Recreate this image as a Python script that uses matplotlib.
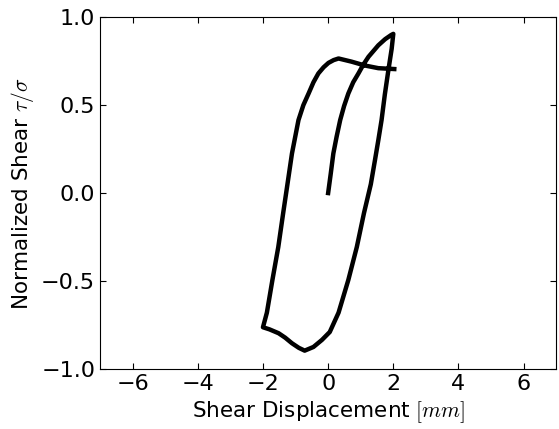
import matplotlib
matplotlib.use("Agg")
import matplotlib.pyplot as plt

plt.rcParams["mathtext.fontset"] = "cm"

# Shear displacement (mm) and normalized shear along the loading path
disp = [0.0, 0.04, 0.08, 0.16, 0.26, 0.37, 0.49, 0.62, 0.77, 0.93, 1.08,
        1.24, 1.54, 1.75, 1.93, 2.0,
        1.95, 1.85, 1.74, 1.64, 1.54, 1.44, 1.31, 1.10, 0.88, 0.62,
        0.32, 0.05, -0.19, -0.45, -0.72,
        -0.9, -1.11, -1.32, -1.52, -1.8, -2.0,
        -1.88, -1.71, -1.53, -1.38, -1.26, -1.11, -0.91, -0.76, -0.60,
        -0.45, -0.30, -0.14, 0.01, 0.17, 0.32,
        0.72, 1.13, 1.54, 2.03]
shear = [0.0, 0.055, 0.11, 0.225, 0.32, 0.415, 0.495, 0.566, 0.63, 0.68, 0.73,
         0.775, 0.84, 0.875, 0.898, 0.905,
         0.82, 0.70, 0.56, 0.415, 0.30, 0.19, 0.05, -0.114, -0.307, -0.494,
         -0.68, -0.79, -0.835, -0.875, -0.896,
         -0.88, -0.854, -0.822, -0.797, -0.775, -0.763,
         -0.68, -0.494, -0.307, -0.114, 0.036, 0.225, 0.415, 0.50, 0.566,
         0.63, 0.68, 0.715, 0.74, 0.756, 0.765,
         0.747, 0.725, 0.71, 0.705]

fig = plt.figure(figsize=(5.59, 4.29), dpi=100)
ax = fig.add_axes([0.179, 0.14, 0.816, 0.82])
ax.plot(disp, shear, color="black", linewidth=3.2, solid_joinstyle="round")

ax.set_xlim(-7, 7)
ax.set_ylim(-1, 1)
ax.set_xticks([-6, -4, -2, 0, 2, 4, 6])
ax.set_yticks([-1.0, -0.5, 0.0, 0.5, 1.0])
ax.tick_params(direction="in", top=True, right=True, length=4, labelsize=16)
ax.set_xlabel(r"Shear Displacement $[mm]$", fontsize=15.5)
ax.set_ylabel(r"Normalized Shear $\tau/\sigma$", fontsize=15.5)

fig.savefig("out.png", dpi=100)
